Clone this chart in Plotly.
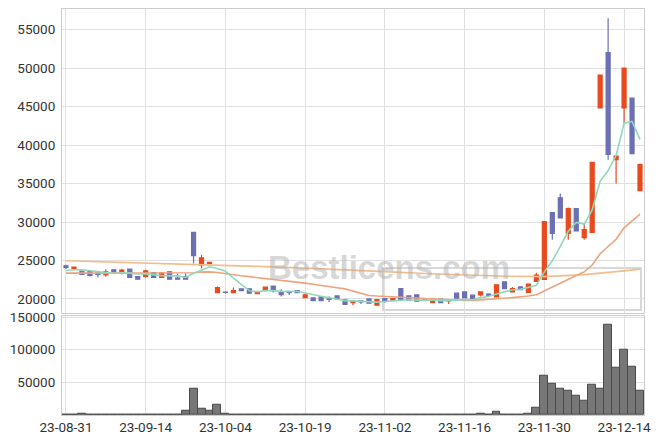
import plotly.graph_objects as go
from plotly.subplots import make_subplots

dates = ["23-08-31", "23-09-01", "23-09-04", "23-09-05", "23-09-06", "23-09-07", "23-09-08",
         "23-09-11", "23-09-12", "23-09-13", "23-09-14", "23-09-15", "23-09-18", "23-09-19",
         "23-09-20", "23-09-21", "23-09-22", "23-09-25", "23-09-26", "23-09-27", "23-10-04",
         "23-10-05", "23-10-06", "23-10-10", "23-10-11", "23-10-12", "23-10-13", "23-10-16",
         "23-10-17", "23-10-18", "23-10-19", "23-10-20", "23-10-23", "23-10-24", "23-10-25",
         "23-10-26", "23-10-27", "23-10-30", "23-10-31", "23-11-01", "23-11-02", "23-11-03",
         "23-11-06", "23-11-07", "23-11-08", "23-11-09", "23-11-10", "23-11-13", "23-11-14",
         "23-11-15", "23-11-16", "23-11-17", "23-11-20", "23-11-21", "23-11-22", "23-11-23",
         "23-11-24", "23-11-27", "23-11-28", "23-11-29", "23-11-30", "23-12-01", "23-12-04",
         "23-12-05", "23-12-06", "23-12-07", "23-12-08", "23-12-11", "23-12-12", "23-12-13",
         "23-12-14", "23-12-15", "23-12-18"]

open_ = [24300, 23950, 23600, 23560, 23400, 23130, 23780, 23430, 23870, 22910, 22910, 23430, 22780, 23520,
         22700, 22910, 28650, 24400, 24570, 20820, 20900, 20820, 21300, 21300, 20690, 21170, 21650, 20910,
         20900, 21080, 20170, 20130, 20260, 20000, 20390, 19870, 19520, 19740, 20000, 19180, 20040, 19830,
         21340, 20390, 20520, 19920, 19520, 19960, 19750, 20740, 20910, 20480, 20520, 20610, 20260, 22220,
         20910, 21560, 20830, 22260, 22520, 31220, 33140, 28530, 31740, 27960, 28650, 44830, 52020, 38100,
         44830, 46100, 34090]
high = [24450, 24150, 23600, 23560, 23400, 23870, 23780, 23910, 23870, 22910, 23780, 23430, 23390, 23520,
        23260, 23300, 28650, 25740, 24800, 21600, 21000, 21470, 21300, 21300, 20950, 21520, 21650, 21260,
        20900, 21080, 20700, 20130, 20260, 20300, 20390, 19870, 19650, 19740, 20000, 19910, 20040, 20040,
        21340, 20390, 20520, 20100, 19960, 19960, 19800, 20740, 20910, 20480, 20910, 20740, 21830, 22220,
        21560, 21560, 21910, 23390, 30050, 31220, 33700, 31900, 31740, 29850, 37750, 49100, 56510, 38600,
        50010, 46100, 37600]
low = [23900, 23950, 23200, 22900, 22780, 22910, 23520, 23170, 22780, 22570, 22780, 22780, 22780, 22570,
       22570, 22570, 24600, 23960, 24500, 20820, 20700, 20820, 21080, 20740, 20690, 20950, 20820, 20300,
       20520, 20820, 20170, 19780, 19780, 19600, 20000, 19300, 19180, 19350, 19440, 19180, 19500, 19830,
       19910, 19830, 19700, 19850, 19520, 19520, 19350, 20090, 20130, 19910, 20300, 20300, 20260, 21340,
       20910, 21210, 20830, 22260, 22520, 27700, 30530, 27700, 28830, 27700, 28650, 44830, 38090, 35000,
       42870, 38880, 34090]
close = [24100, 24150, 23200, 23050, 23170, 23520, 23520, 23740, 22780, 22570, 23650, 22780, 23390, 22570,
         22570, 22570, 25610, 25350, 24740, 21475, 20850, 21080, 21080, 20740, 20950, 21520, 21080, 20560,
         20820, 20820, 20520, 19780, 19780, 19950, 20000, 19300, 19650, 19610, 19440, 19910, 19740, 20040,
         19910, 19830, 19700, 19850, 19960, 19520, 19800, 20090, 20130, 19910, 20910, 20480, 21830, 21340,
         21340, 21210, 21910, 23090, 30050, 28530, 30530, 31740, 28830, 29000, 37750, 49100, 38790, 38570,
         50010, 38880, 37480]

ma5 = [23700, 23800, 23800, 23700, 23550, 23420, 23300, 23400, 23350, 23230, 23250, 23100, 23030, 22990,
       22990, 22780, 23340, 23730, 24170, 23950, 23600, 22700, 21850, 21050, 20940, 21070, 21070, 20970,
       20990, 20960, 20760, 20500, 20340, 20170, 20010, 19760, 19740, 19700, 19600, 19580, 19670, 19750,
       19810, 19890, 19840, 19870, 19850, 19770, 19770, 19840, 19900, 19890, 20170, 20300, 20650, 20890,
       21180, 21240, 21530, 21780, 23520, 24960, 26820, 28790, 29940, 29730, 31570, 35280, 36690, 38640,
       42840, 43070, 40750]
ma20 = [23350, 23350, 23380, 23400, 23400, 23400, 23400, 23400, 23390, 23380, 23380, 23370, 23370, 23350,
        23330, 23320, 23400, 23480, 23520, 23430, 23260, 23110, 23000, 22890, 22780, 22680, 22560, 22400,
        22300, 22210, 22050, 21900, 21720, 21590, 21460, 21300, 21000, 20720, 20450, 20370, 20320, 20270,
        20210, 20160, 20100, 20020, 19960, 19910, 19860, 19820, 19800, 19810, 19860, 19890, 19980, 20080,
        20170, 20250, 20370, 20530, 21050, 21470, 22000, 22600, 23050, 23510, 24400, 25880, 26830, 27750,
        29250, 30200, 31020]
ma_long_dates = ["23-08-31", "23-09-07", "23-09-14", "23-09-21", "23-10-04", "23-10-12", "23-10-19",
                 "23-10-26", "23-11-02", "23-11-09", "23-11-16", "23-11-23", "23-11-30", "23-12-07",
                 "23-12-14", "23-12-18"]
ma_long = [24960, 24820, 24680, 24500, 24350, 24200, 24000, 23800, 23550, 23300, 23100, 22950, 22900,
           23150, 23650, 23870]

volume = [0, 0, 2500, 1000, 0, 1000, 0, 1000, 1000, 1000, 0, 1000, 1000, 1000, 1000, 6000, 40400, 10100,
          7100, 15150, 2500, 1000, 1000, 1000, 0, 1000, 0, 1000, 1000, 0, 0, 1000, 1000, 1000, 0, 1000, 0,
          1000, 0, 1000, 0, 1000, 1000, 1000, 1000, 0, 0, 1000, 0, 0, 0, 0, 2500, 1000, 4500, 1000, 1000,
          0, 2500, 11600, 60600, 48000, 40400, 36400, 28800, 21200, 47000, 40400, 138900, 72300, 99500,
          73200, 36400]

tick_dates = ["23-08-31", "23-09-14", "23-10-04", "23-10-19", "23-11-02", "23-11-16", "23-11-30", "23-12-14"]
price_ticks = [20000, 25000, 30000, 35000, 40000, 45000, 50000, 55000]
volume_ticks = [50000, 100000, 150000]

UP = "#E8491D"
DOWN = "#6B6FB4"
FONT = dict(family="Roboto, sans-serif", size=13.5, color="#333333")

fig = make_subplots(rows=2, cols=1, shared_xaxes=True, vertical_spacing=0.0074,
                    row_heights=[0.7537, 0.2463])

fig.add_trace(go.Scatter(x=ma_long_dates, y=ma_long, mode="lines",
                         line=dict(color="#F2BC8C", width=1.6), hoverinfo="skip"), row=1, col=1)
fig.add_trace(go.Scatter(x=dates, y=ma20, mode="lines",
                         line=dict(color="#EFA27C", width=1.6), hoverinfo="skip"), row=1, col=1)
fig.add_trace(go.Scatter(x=dates, y=ma5, mode="lines",
                         line=dict(color="#8ED9BC", width=1.6), hoverinfo="skip"), row=1, col=1)
fig.add_trace(go.Candlestick(x=dates, open=open_, high=high, low=low, close=close,
                             increasing=dict(line=dict(color=UP, width=1.2), fillcolor=UP),
                             decreasing=dict(line=dict(color=DOWN, width=1.2), fillcolor=DOWN),
                             whiskerwidth=0), row=1, col=1)
fig.add_trace(go.Bar(x=dates, y=volume, marker=dict(color="#777777", line=dict(color="#4a4a4a", width=1))),
              row=2, col=1)

fig.update_layout(
    width=663, height=444,
    margin=dict(l=62, r=19, t=9, b=29),
    paper_bgcolor="white", plot_bgcolor="white",
    showlegend=False, bargap=0, boxgap=0.28,
    font=FONT,
)
grid = "#e0e0e0"
fig.update_xaxes(type="category", categoryorder="array", categoryarray=dates,
                 range=[-0.5, len(dates) - 0.5], rangeslider_visible=False, automargin=False,
                 showgrid=True, gridcolor=grid, gridwidth=1,
                 tickmode="array", tickvals=tick_dates, ticktext=tick_dates,
                 showline=True, linecolor="#cccccc", mirror=True, ticks="", zeroline=False,
                 tickfont=FONT)
fig.update_xaxes(showticklabels=False, row=1, col=1)
fig.update_yaxes(range=[18200, 57700], tickmode="array", tickvals=price_ticks,
                 ticktext=[str(v) for v in price_ticks], automargin=False,
                 showgrid=True, gridcolor=grid,
                 showline=True, linecolor="#cccccc", mirror=True, ticks="outside", ticklen=3,
                 tickcolor="rgba(0,0,0,0)", zeroline=False, tickfont=FONT, row=1, col=1)
fig.update_yaxes(range=[0, 152000], tickmode="array", tickvals=volume_ticks,
                 ticktext=[str(v) for v in volume_ticks], automargin=False,
                 showgrid=True, gridcolor=grid,
                 showline=True, linecolor="#cccccc", mirror=True, ticks="outside", ticklen=3,
                 tickcolor="rgba(0,0,0,0)", zeroline=False, tickfont=FONT, row=2, col=1)

# watermark
fig.add_shape(type="rect", xref="paper", yref="paper", x0=0.5515, x1=0.9948, y0=0.2586, y1=0.362,
              line=dict(color="#d8d8d8", width=2), layer="below")
fig.add_annotation(text="<b>Bestlicens.com</b>", xref="paper", yref="paper", x=0.773, y=0.313,
                   showarrow=False, font=dict(family="Liberation Sans, Arial", size=33,
                                              color="rgba(175,175,175,0.5)"))

fig.write_html("out.html", config={"displayModeBar": False},
               post_script="document.body.style.margin='0';document.body.style.overflow='hidden';")
